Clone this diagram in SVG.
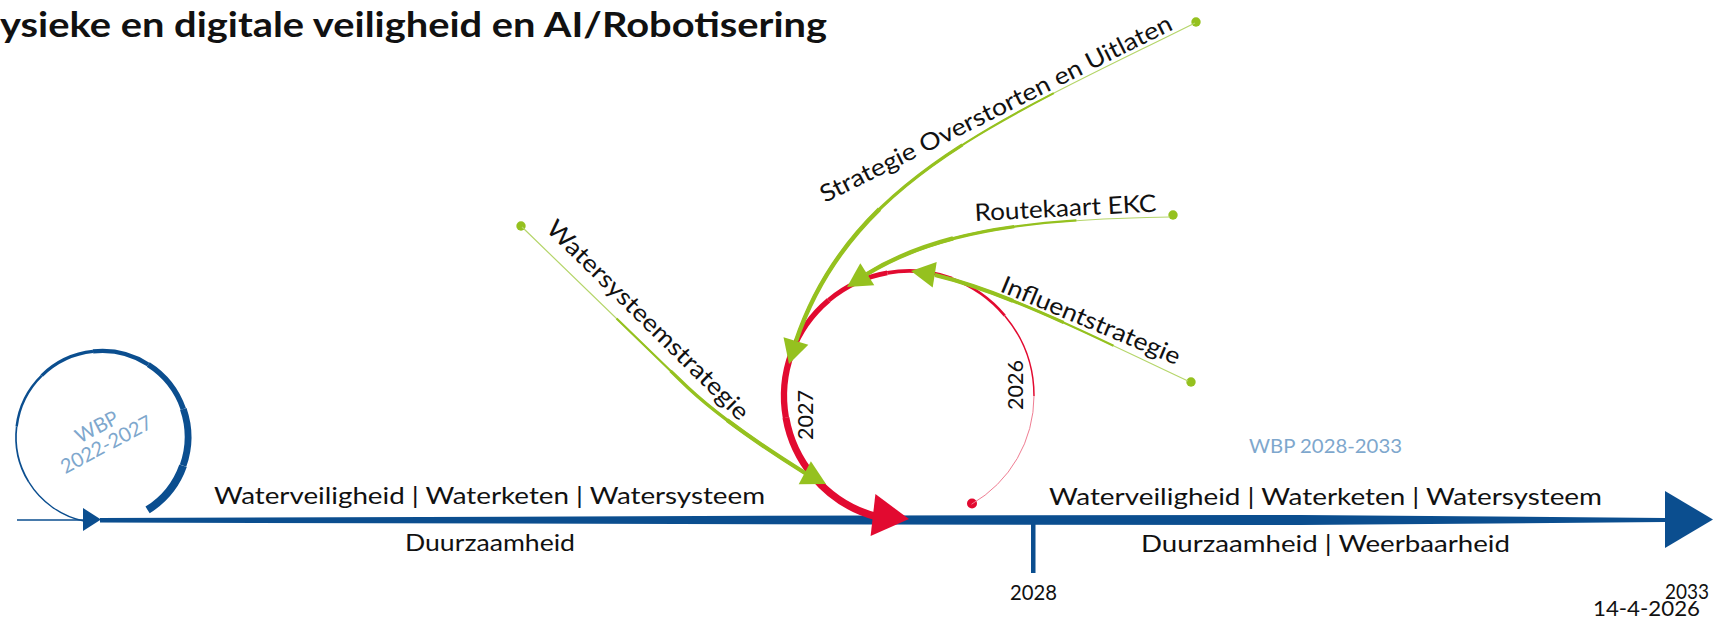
<svg xmlns="http://www.w3.org/2000/svg" width="1718" height="619" viewBox="0 0 1718 619">
<style>
.t{font-family:Lato,'Open Sans','Liberation Sans',sans-serif;fill:#111}
.lab{font-size:24px}
.yr{font-size:21px}
.wbp{fill:#7ea7cd;font-size:20px}
.g{fill:none;stroke:#95c11f}
.gt{fill:none;stroke:#b5d56a}
.ga{fill:#95c11f}
.r{fill:none;stroke:#e20a30}
.b{fill:none;stroke:#0b4e8f}
.bf{fill:#0b4e8f}
</style>
<rect width="1718" height="619" fill="#fff"/>

<g id="title">
<text class="t" x="0" y="37" font-size="35" font-weight="700" textLength="827" lengthAdjust="spacingAndGlyphs">ysieke en digitale veiligheid en AI/Robotisering</text>
</g>

<g id="timeline">
<line class="b" x1="17" y1="520" x2="90" y2="520" stroke-width="1.5"/>
<polygon class="bf" points="100,518 870,515.5 1300,515 1665,518 1665,522 1300,525 870,524.5 100,522.5"/>
<polygon class="bf" points="1665,491 1713,519.5 1665,548"/>
<rect class="bf" x="1031" y="524" width="4.5" height="49"/>
<text class="t yr" x="1010" y="600" font-size="19" textLength="47" lengthAdjust="spacingAndGlyphs">2028</text>
<text class="t yr" x="1665" y="599" font-size="19" textLength="44" lengthAdjust="spacingAndGlyphs">2033</text>
<text class="t" x="1593" y="616" font-size="21" textLength="107" lengthAdjust="spacingAndGlyphs">14-4-2026</text>
</g>

<g id="wbp-2022-2027">
<g class="b" stroke-linecap="butt">
<path d="M84.1,521.1 A86,86 0 0 1 28.68,481.93" stroke-width="1.4"/>
<path d="M28.68,481.93 A86,86 0 0 1 16.64,426.52" stroke-width="1.7"/>
<path d="M16.64,426.52 A86,86 0 0 1 41.72,375.66" stroke-width="2.4"/>
<path d="M41.72,375.66 A86,86 0 0 1 93.01,351.47" stroke-width="3.3"/>
<path d="M93.01,351.47 A86,86 0 0 1 148.21,364.47" stroke-width="4.3"/>
<path d="M148.21,364.47 A86,86 0 0 1 183.31,409.0" stroke-width="5.5"/>
<path d="M183.31,409.0 A86,86 0 0 1 183.06,465.71" stroke-width="6.8"/>
<path d="M183.06,465.71 A86,86 0 0 1 147.57,509.93" stroke-width="7.9"/>
</g>
<polygon class="bf" points="83,508 83,531 101,519.5"/>
<g transform="translate(100,433) rotate(-28)">
<text class="t wbp" x="0" y="0" text-anchor="middle">WBP</text>
<text class="t wbp" x="0" y="20" text-anchor="middle">2022-2027</text>
</g>
</g>

<g id="wbp-2028-2033">
<text class="t wbp" x="1249" y="453" textLength="153" lengthAdjust="spacingAndGlyphs">WBP 2028-2033</text>
</g>

<g id="themes">
<text class="t lab" x="214" y="504" textLength="551" lengthAdjust="spacingAndGlyphs">Waterveiligheid | Waterketen | Watersysteem</text>
<text class="t lab" x="405" y="551" textLength="170" lengthAdjust="spacingAndGlyphs">Duurzaamheid</text>
<text class="t lab" x="1049" y="505" textLength="553" lengthAdjust="spacingAndGlyphs">Waterveiligheid | Waterketen | Watersysteem</text>
<text class="t lab" x="1141" y="552" textLength="369" lengthAdjust="spacingAndGlyphs">Duurzaamheid | Weerbaarheid</text>
</g>

<g id="cycle-2026-2027">
<circle cx="972" cy="503.5" r="5" fill="#e20a30"/>
<g class="r" stroke-linecap="butt">
<path d="M971.5,504.25 A125,125 0 0 0 1034,396" stroke-width="1" stroke="#ef7d92"/>
<path d="M1034,396 A125,125 0 0 0 1004.75,315.65" stroke-width="1.5"/>
<path d="M1004.75,315.65 A125,125 0 0 0 951.75,278.54" stroke-width="2.6"/>
<path d="M951.75,278.54 A125,125 0 0 0 887.3,272.9" stroke-width="3.8"/>
<path d="M887.3,272.9 A125,125 0 0 0 828.65,300.25" stroke-width="4.7"/>
<path d="M828.65,300.25 A125,125 0 0 0 791.54,353.25" stroke-width="5.5"/>
<path d="M791.54,353.25 A125,125 0 0 0 785.9,417.7" stroke-width="6.3"/>
<path d="M785.9,417.7 A125,125 0 0 0 813.25,476.35" stroke-width="6.9"/>
<path d="M813.25,476.35 A125,125 0 0 0 876.65,516.74" stroke-width="7.5"/>
</g>
<polygon fill="#e20a30" points="875.4,494.1 909,519 870.6,535.9"/>
<text class="t yr" transform="translate(813,440) rotate(-90)" textLength="50" lengthAdjust="spacingAndGlyphs">2027</text>
<text class="t yr" transform="translate(1023,410) rotate(-90)" textLength="50" lengthAdjust="spacingAndGlyphs">2026</text>
</g>

<g id="connectors">
<g id="watersysteemstrategie">
<circle class="ga" cx="521" cy="226" r="4.7"/>
<path class="gt" d="M522,227 L680,380 Q720,420 805,473" pathLength="100" stroke-width="1.2"/>
<path class="g" d="M522,227 L680,380 Q720,420 805,473" pathLength="100" stroke-width="2.2" stroke-dasharray="0 35 65 0"/>
<path class="g" d="M522,227 L680,380 Q720,420 805,473" pathLength="100" stroke-width="3.2" stroke-dasharray="0 55 45 0"/>
<path class="g" d="M522,227 L680,380 Q720,420 805,473" pathLength="100" stroke-width="4.2" stroke-dasharray="0 75 25 0"/>
<polygon class="ga" points="798.7,484.2 826,484 810.9,461.2"/>
</g>
<g id="strategie-overstorten">
<circle class="ga" cx="1196" cy="22" r="4.7"/>
<path class="gt" d="M1195,23 C1000,120 850,180 796,341" pathLength="100" stroke-width="1.2"/>
<path class="g" d="M1195,23 C1000,120 850,180 796,341" pathLength="100" stroke-width="2.2" stroke-dasharray="0 30 70 0"/>
<path class="g" d="M1195,23 C1000,120 850,180 796,341" pathLength="100" stroke-width="3.2" stroke-dasharray="0 50 50 0"/>
<path class="g" d="M1195,23 C1000,120 850,180 796,341" pathLength="100" stroke-width="4.4" stroke-dasharray="0 70 30 0"/>
<polygon class="ga" points="783.5,337.2 789,364 808.3,344.8"/>
</g>
<g id="routekaart-ekc">
<circle class="ga" cx="1173" cy="215" r="4.7"/>
<path class="gt" d="M1170,217 C1050,219 945,226 867,274" pathLength="100" stroke-width="1.2"/>
<path class="g" d="M1170,217 C1050,219 945,226 867,274" pathLength="100" stroke-width="2.2" stroke-dasharray="0 30 70 0"/>
<path class="g" d="M1170,217 C1050,219 945,226 867,274" pathLength="100" stroke-width="3.2" stroke-dasharray="0 50 50 0"/>
<path class="g" d="M1170,217 C1050,219 945,226 867,274" pathLength="100" stroke-width="4.4" stroke-dasharray="0 70 30 0"/>
<polygon class="ga" points="860.3,263.2 847,287 874.3,285.2"/>
</g>
<g id="influentstrategie">
<circle class="ga" cx="1191" cy="382" r="4.7"/>
<path class="gt" d="M1188,381 C1100,340 1010,293 935,275" pathLength="100" stroke-width="1.2"/>
<path class="g" d="M1188,381 C1100,340 1010,293 935,275" pathLength="100" stroke-width="2.2" stroke-dasharray="0 30 70 0"/>
<path class="g" d="M1188,381 C1100,340 1010,293 935,275" pathLength="100" stroke-width="3.2" stroke-dasharray="0 50 50 0"/>
<path class="g" d="M1188,381 C1100,340 1010,293 935,275" pathLength="100" stroke-width="4.2" stroke-dasharray="0 70 30 0"/>
<polygon class="ga" points="936.7,261.9 911,271 932.7,287.5"/>
</g>
</g>

<g id="connector-labels">
<text class="t lab" transform="translate(545,230) rotate(44.6)" textLength="273" lengthAdjust="spacingAndGlyphs">Watersysteemstrategie</text>
<text class="t lab" transform="translate(825,203) rotate(-26.5)" textLength="390" lengthAdjust="spacingAndGlyphs">Strategie Overstorten en Uitlaten</text>
<text class="t lab" transform="translate(975,221) rotate(-3)" textLength="182" lengthAdjust="spacingAndGlyphs">Routekaart EKC</text>
<text class="t lab" transform="translate(999,291) rotate(22.7)" textLength="192" lengthAdjust="spacingAndGlyphs">Influentstrategie</text>
</g>
</svg>
